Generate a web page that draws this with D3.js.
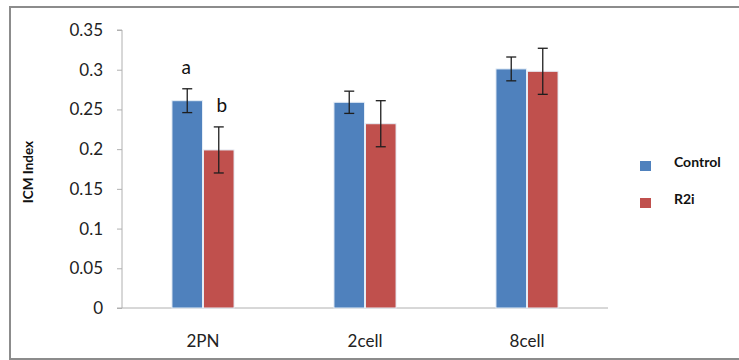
<!DOCTYPE html>
<html>
<head>
<meta charset="utf-8">
<script src="https://cdn.jsdelivr.net/npm/d3@7"></script>
<style>
  html, body { margin: 0; padding: 0; background: #fff; }
  svg { display: block; }
</style>
</head>
<body>
<svg id="chart" width="739" height="360"></svg>
<script>
const categories = ["2PN", "2cell", "8cell"];
const seriesNames = ["Control", "R2i"];
const controlValues = [0.261, 0.259, 0.301];
const r2iValues = [0.199, 0.232, 0.298];
const controlErrors = [0.015, 0.014, 0.015];
const r2iErrors = [0.029, 0.029, 0.029];
const yTicks = [0, 0.05, 0.1, 0.15, 0.2, 0.25, 0.3, 0.35];
const yTickLabels = ["0", "0.05", "0.1", "0.15", "0.2", "0.25", "0.3", "0.35"];
const significance = [{cat: "2PN", series: "Control", label: "a"}, {cat: "2PN", series: "R2i", label: "b"}];
const colors = {"Control": "#4F81BD", "R2i": "#C0504D"};

const font = "Lato, 'Open Sans', sans-serif";
const svg = d3.select("#chart");

// outer frame
svg.append("rect").attr("x", 10).attr("y", 7).attr("width", 740).attr("height", 352)
  .attr("fill", "none").attr("stroke", "#8c8c8c").attr("stroke-width", 2);

const plot = {left: 122, right: 608, top: 30, bottom: 308};

const x0 = d3.scaleBand().domain(categories).range([plot.left, plot.right]).paddingInner(0).paddingOuter(0);
const x1 = d3.scaleBand().domain(seriesNames).range([x0.bandwidth() / 2 - 32, x0.bandwidth() / 2 + 32]).padding(0.03);
const y = d3.scaleLinear().domain([0, 0.35]).range([plot.bottom, plot.top]);

// y axis
const yAxis = d3.axisLeft(y).tickValues(yTicks).tickFormat((d, i) => yTickLabels[i]).tickSize(5).tickPadding(14);
const yg = svg.append("g").attr("transform", `translate(${plot.left},0)`).call(yAxis);
yg.select(".domain").attr("stroke", "#b0b0b0").attr("d", `M-5,${plot.top}H0V${plot.bottom}`);
yg.selectAll(".tick line").attr("stroke", "#b0b0b0");
yg.selectAll(".tick text").attr("font-family", font).attr("font-size", 17).attr("fill", "#222");

// x axis
const xAxis = d3.axisBottom(x0).tickSize(0).tickPadding(27);
const xg = svg.append("g").attr("transform", `translate(0,${plot.bottom})`).call(xAxis);
xg.select(".domain").attr("stroke", "#b0b0b0").attr("d", `M${plot.left - 5},0H${plot.right}`);
xg.selectAll(".tick text").attr("font-family", font).attr("font-size", 17).attr("fill", "#222");

// data rows
const rows = categories.map((c, i) => ({
  cat: c,
  values: [
    {series: "Control", value: controlValues[i], err: controlErrors[i]},
    {series: "R2i", value: r2iValues[i], err: r2iErrors[i]}
  ]
}));

const groups = svg.append("g").selectAll("g").data(rows).join("g")
  .attr("transform", d => `translate(${x0(d.cat)},0)`);

groups.selectAll("rect").data(d => d.values).join("rect")
  .attr("x", d => x1(d.series))
  .attr("y", d => y(d.value))
  .attr("width", x1.bandwidth())
  .attr("height", d => y(0) - y(d.value))
  .attr("fill", d => colors[d.series])
  .attr("stroke", "#e6eef7").attr("stroke-width", 1);

// error bars
const eb = groups.selectAll("g.err").data(d => d.values).join("g").attr("class", "err")
  .attr("stroke", "#1e1e1e").attr("stroke-width", 1.3);
eb.append("line")
  .attr("x1", d => x1(d.series) + x1.bandwidth() / 2).attr("x2", d => x1(d.series) + x1.bandwidth() / 2)
  .attr("y1", d => y(d.value + d.err)).attr("y2", d => y(d.value - d.err));
eb.append("line")
  .attr("x1", d => x1(d.series) + x1.bandwidth() / 2 - 5).attr("x2", d => x1(d.series) + x1.bandwidth() / 2 + 5)
  .attr("y1", d => y(d.value + d.err)).attr("y2", d => y(d.value + d.err));
eb.append("line")
  .attr("x1", d => x1(d.series) + x1.bandwidth() / 2 - 5).attr("x2", d => x1(d.series) + x1.bandwidth() / 2 + 5)
  .attr("y1", d => y(d.value - d.err)).attr("y2", d => y(d.value - d.err));

// significance letters
significance.forEach(s => {
  const i = categories.indexOf(s.cat);
  const vals = s.series === "Control" ? controlValues : r2iValues;
  const errs = s.series === "Control" ? controlErrors : r2iErrors;
  svg.append("text")
    .attr("x", x0(s.cat) + x1(s.series) + x1.bandwidth() / 2 + (s.series === "R2i" ? 3 : -1))
    .attr("y", y(vals[i] + errs[i]) - 15)
    .attr("text-anchor", "middle")
    .attr("font-family", font).attr("font-size", 19).attr("fill", "#111")
    .text(s.label);
});

// y title
svg.append("text")
  .attr("transform", `translate(33,172) rotate(-90)`)
  .attr("text-anchor", "middle")
  .attr("font-family", font).attr("font-weight", "bold").attr("font-size", 13.5).attr("fill", "#111")
  .text("ICM Index");

// legend
const lg = svg.append("g").selectAll("g").data(seriesNames).join("g")
  .attr("transform", (d, i) => `translate(640,${161 + i * 37})`);
lg.append("rect").attr("width", 11).attr("height", 10).attr("fill", d => colors[d]);
lg.append("text").attr("x", 34).attr("y", 1).attr("dy", "0.35em")
  .attr("font-family", font).attr("font-weight", "bold").attr("font-size", 14).attr("fill", "#111")
  .text(d => d);
</script>
</body>
</html>
